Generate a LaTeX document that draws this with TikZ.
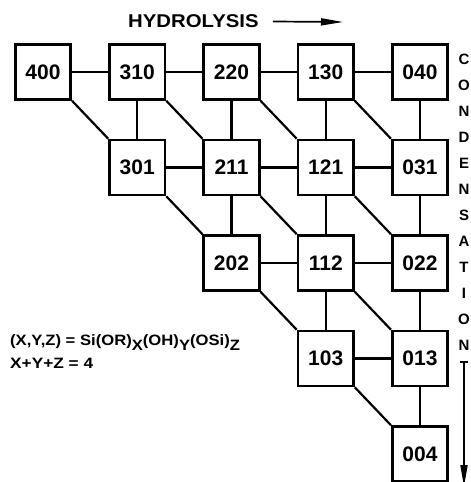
\documentclass[tikz,border=0pt]{standalone}
\usepackage{fontspec}
\setmainfont{Liberation Sans}
\usetikzlibrary{arrows.meta}
\newcommand{\lowsub}[1]{\raisebox{-5pt}{#1}}
\newcommand{\widen}[2]{\scalebox{#1}[1]{#2}}

\begin{document}
\begin{tikzpicture}[x=1pt,y=1pt,
  every node/.style={font=\bfseries},
  species/.style={draw, line width=2.6pt, inner sep=0pt,
    minimum width=55.5pt, minimum height=55pt,
    font=\fontsize{21}{21}\selectfont\bfseries},
  link/.style={line width=2.2pt},
  flow/.style={line width=1.7pt, -{Triangle[length=22pt,width=7pt]}},
]
\useasboundingbox (0,0) rectangle (471,-482);
\clip (0,0) rectangle (471,-482);

% species grid
\node[species] at ( 43.00, -72.0) (n400) {400};
\node[species] at (137.25, -72.0) (n310) {310};
\node[species] at (231.50, -72.0) (n220) {220};
\node[species] at (325.75, -72.0) (n130) {130};
\node[species] at (420.00, -72.0) (n040) {040};

\node[species] at (137.25,-167.5) (n301) {301};
\node[species] at (231.50,-167.5) (n211) {211};
\node[species] at (325.75,-167.5) (n121) {121};
\node[species] at (420.00,-167.5) (n031) {031};

\node[species] at (231.50,-263.0) (n202) {202};
\node[species] at (325.75,-263.0) (n112) {112};
\node[species] at (420.00,-263.0) (n022) {022};

\node[species] at (325.75,-358.5) (n103) {103};
\node[species] at (420.00,-358.5) (n013) {013};

\node[species] at (420.00,-454.0) (n004) {004};

% hydrolysis steps
\draw[link] (n400.east) -- (n310.west);
\draw[link] (n310.east) -- (n220.west);
\draw[link] (n220.east) -- (n130.west);
\draw[link] (n130.east) -- (n040.west);
\draw[link] (n301.east) -- (n211.west);
\draw[link] (n211.east) -- (n121.west);
\draw[link] (n121.east) -- (n031.west);
\draw[link] (n202.east) -- (n112.west);
\draw[link] (n112.east) -- (n022.west);
\draw[link] (n103.east) -- (n013.west);

% condensation of OH
\draw[link] (n310.south) -- (n301.north);
\draw[link] (n220.south) -- (n211.north);
\draw[link] (n130.south) -- (n121.north);
\draw[link] (n040.south) -- (n031.north);
\draw[link] (n211.south) -- (n202.north);
\draw[link] (n121.south) -- (n112.north);
\draw[link] (n031.south) -- (n022.north);
\draw[link] (n112.south) -- (n103.north);
\draw[link] (n022.south) -- (n013.north);
\draw[link] (n013.south) -- (n004.north);

% condensation of OR
\draw[link] (n400.south east) -- (n301.north west);
\draw[link] (n310.south east) -- (n211.north west);
\draw[link] (n220.south east) -- (n121.north west);
\draw[link] (n130.south east) -- (n031.north west);
\draw[link] (n301.south east) -- (n202.north west);
\draw[link] (n211.south east) -- (n112.north west);
\draw[link] (n121.south east) -- (n022.north west);
\draw[link] (n202.south east) -- (n103.north west);
\draw[link] (n112.south east) -- (n013.north west);
\draw[link] (n103.south east) -- (n004.north west);

% axis labels
\node[anchor=west, inner sep=0pt, font=\fontsize{18.5}{20}\selectfont\bfseries]
  at (128,-21.5) (hyd) {\widen{1.1}{HYDROLYSIS}};
\coordinate (hydend) at (343,-22);
\draw[flow] ([xshift=14pt]hyd.east) -- (hydend);

\node[anchor=north, align=center, inner sep=0pt,
  font=\fontsize{15}{26}\selectfont\bfseries]
  at (464,-54) (cond) {C\\O\\N\\D\\E\\N\\S\\A\\T\\I\\O\\N};
\coordinate (condend) at (464,-487);
\draw[flow, {Bar[width=8pt]}-{Triangle[length=22pt,width=7pt]}]
  ([yshift=-10pt]cond.south) -- (condend);

% notation
\node[anchor=north west, align=left, inner sep=0pt,
  font=\fontsize{15}{23}\selectfont\bfseries]
  at (10,-334) (key)
  {\widen{1.11}{(X,Y,Z) = Si(OR)\lowsub{X}(OH)\lowsub{Y}(OSi)\lowsub{Z}}\\
   \widen{1.15}{X+Y+Z = 4}};
\end{tikzpicture}
\end{document}
